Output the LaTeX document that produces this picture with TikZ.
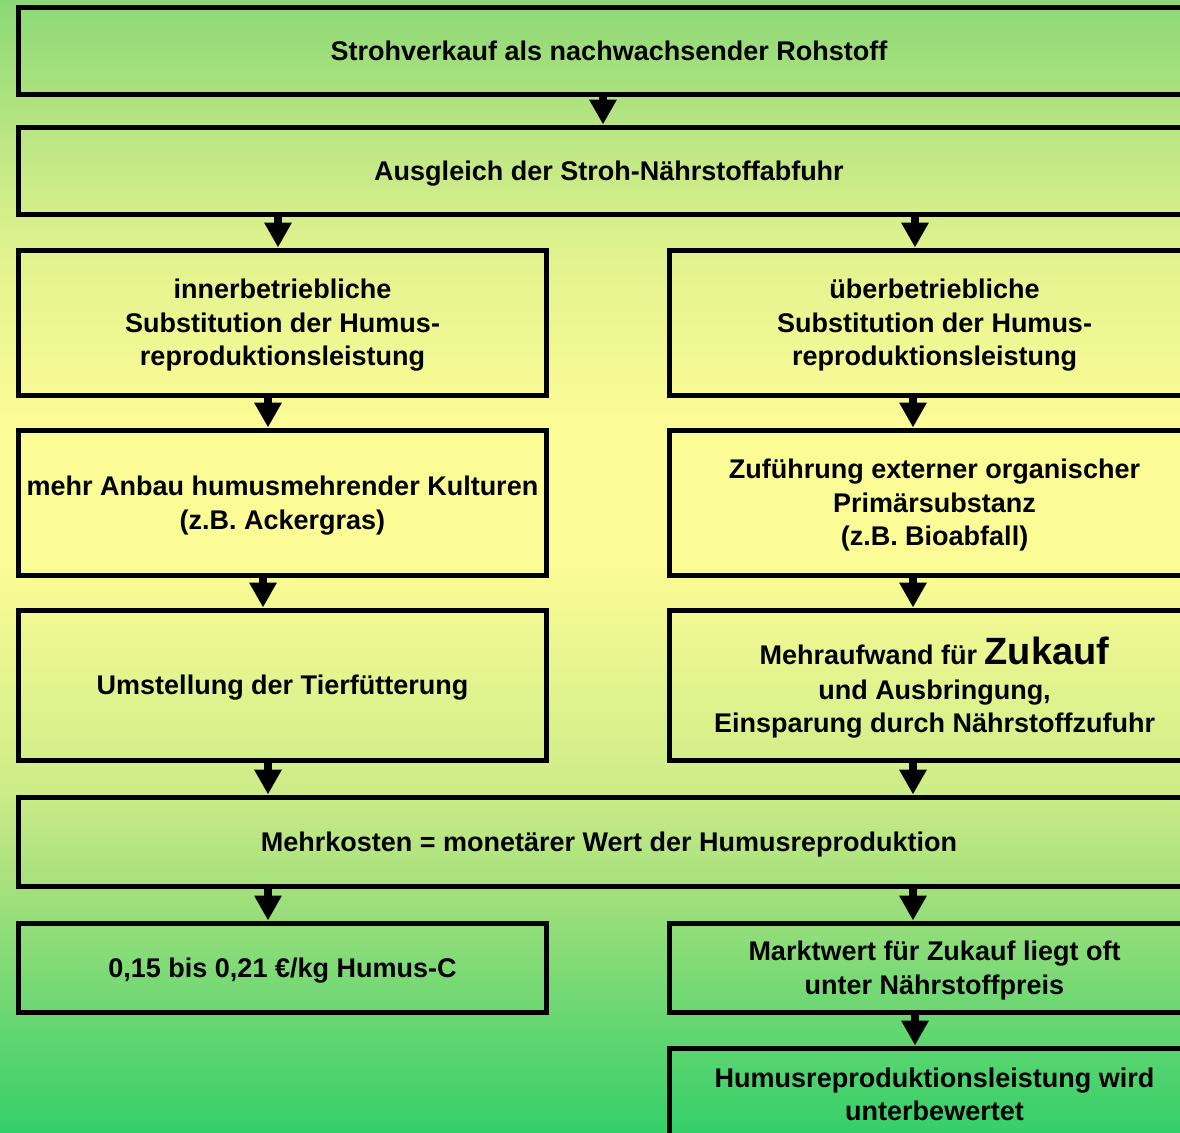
\documentclass[tikz,border=0pt]{standalone}
\usepackage{fontspec}
\setmainfont{Liberation Sans}
\usetikzlibrary{arrows.meta}
\definecolor{c0}{RGB}{140,216,118}
\definecolor{c1}{RGB}{225,242,142}
\definecolor{c2}{RGB}{252,252,150}
\definecolor{c3}{RGB}{205,236,136}
\definecolor{c4}{RGB}{163,224,124}
\definecolor{c5}{RGB}{52,207,106}
\begin{document}
\begin{tikzpicture}[x=1pt,y=-1pt,
  box/.style={draw=black,line width=5pt,align=center,inner sep=0pt,text depth=0pt,
    font=\fontsize{27}{33.5}\selectfont\bfseries},
  arr/.style={line width=8pt,-{Triangle[width=26pt,length=25pt]}}]
\useasboundingbox (0,0) rectangle (1180,1132);
\clip (0,0) rectangle (1180,1132);
% background
\shade[top color=c0,bottom color=c1] (0,0) rectangle (1180,251);
\shade[top color=c1,bottom color=c2] (0,250) rectangle (1180,421);
\fill[c2] (0,420) rectangle (1180,561);
\shade[top color=c2,bottom color=c3] (0,560) rectangle (1180,791);
\shade[top color=c3,bottom color=c4] (0,790) rectangle (1180,891);
\shade[top color=c4,bottom color=c5] (0,890) rectangle (1180,1132);
% column coordinates
\coordinate (xa) at (603,0);
\coordinate (xl1) at (278,0);
\coordinate (xl2) at (268,0);
\coordinate (xl3) at (263,0);
\coordinate (xr1) at (915,0);
\coordinate (xr2) at (913,0);
% boxes
\node[box,minimum width=1182pt,minimum height=86pt] (b1) at (609,51) {Strohverkauf als nachwachsender Rohstoff};
\node[box,minimum width=1182pt,minimum height=87pt] (b2) at (609,170.5) {Ausgleich der Stroh-Nährstoffabfuhr};
\node[box,minimum width=528pt,minimum height=145pt] (l3) at (282.5,322.5) {innerbetriebliche\\Substitution der Humus-\\reproduktionsleistung};
\node[box,minimum width=531pt,minimum height=145pt] (r3) at (934.5,322.5) {überbetriebliche\\Substitution der Humus-\\reproduktionsleistung};
\node[box,minimum width=528pt,minimum height=145pt] (l4) at (282.5,502.5) {mehr Anbau humusmehrender Kulturen\\(z.B. Ackergras)};
\node[box,minimum width=531pt,minimum height=145pt] (r4) at (934.5,502.5) {Zuführung externer organischer\\Primärsubstanz\\(z.B. Bioabfall)};
\node[box,minimum width=528pt,minimum height=150pt] (l5) at (282.5,685) {Umstellung der Tierfütterung};
\node[box,minimum width=531pt,minimum height=150pt] (r5) at (934.5,685) {Mehraufwand für {\fontsize{38}{33.5}\selectfont Zukauf}\\[1pt]und Ausbringung,\\Einsparung durch Nährstoffzufuhr};
\node[box,minimum width=1182pt,minimum height=89pt] (b6) at (609,841.5) {Mehrkosten = monetärer Wert der Humusreproduktion};
\node[box,minimum width=528pt,minimum height=89pt] (l7) at (282.5,967.5) {0,15 bis 0,21 €/kg Humus-C};
\node[box,minimum width=531pt,minimum height=89pt] (r7) at (934.5,967.5) {Marktwert für Zukauf liegt oft\\unter Nährstoffpreis};
\node[box,minimum width=531pt,minimum height=92pt] (r8) at (934.5,1094) {Humusreproduktionsleistung wird\\unterbewertet};
% arrows
\draw[arr] (b1.south -| xa) -- (b2.north -| xa);
\draw[arr] (b2.south -| xl1) -- (l3.north -| xl1);
\draw[arr] (b2.south -| xr1) -- (r3.north -| xr1);
\draw[arr] (l3.south -| xl2) -- (l4.north -| xl2);
\draw[arr] (r3.south -| xr2) -- (r4.north -| xr2);
\draw[arr] (l4.south -| xl3) -- (l5.north -| xl3);
\draw[arr] (r4.south -| xr2) -- (r5.north -| xr2);
\draw[arr] (l5.south -| xl2) -- (b6.north -| xl2);
\draw[arr] (r5.south -| xr2) -- (b6.north -| xr2);
\draw[arr] (b6.south -| xl2) -- (l7.north -| xl2);
\draw[arr] (b6.south -| xr2) -- (r7.north -| xr2);
\draw[arr] (r7.south -| xr1) -- (r8.north -| xr1);
\end{tikzpicture}
\end{document}
